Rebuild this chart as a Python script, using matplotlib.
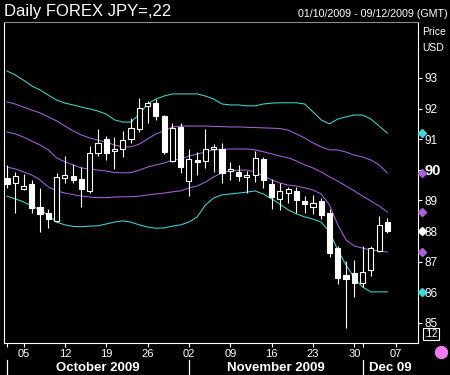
import numpy as np
import pandas as pd
import matplotlib
matplotlib.use("Agg")
import matplotlib.pyplot as plt
import matplotlib.transforms as mtransforms
from matplotlib.lines import Line2D

plt.rcParams['font.family'] = ['Liberation Sans', 'DejaVu Sans']

# trading days on the axis, 01/10/2009 - 09/12/2009
days = pd.bdate_range("2009-10-01", "2009-12-09")

opens = [89.72, 89.56, 89.38, 89.54, 88.79, 88.60, 88.33, 89.72, 89.80, 89.70,
         89.32, 90.55, 91.00, 90.60, 90.67, 91.00, 91.33, 92.10, 92.19, 91.76,
         90.30, 91.41, 89.65, 90.32, 90.29, 90.68, 90.67, 89.96, 89.92, 89.77,
         89.83, 90.35, 89.54, 89.05, 89.23, 89.31, 88.98, 88.79, 88.99, 88.58,
         87.45, 86.56, 86.62, 86.29, 86.73, 87.35, 88.30]
highs = [90.16, 89.93, 89.86, 89.67, 89.41, 88.72, 89.90, 90.45, 90.19, 90.10,
         90.78, 91.33, 91.10, 91.07, 91.28, 91.69, 92.35, 92.26, 92.31, 91.79,
         91.53, 91.54, 90.68, 90.59, 91.32, 90.84, 90.88, 90.26, 90.16, 89.97,
         90.61, 90.43, 89.69, 89.56, 89.45, 89.43, 89.14, 89.18, 89.07, 88.71,
         87.50, 87.02, 87.05, 87.51, 87.51, 88.49, 88.43]
lows = [89.41, 88.59, 89.34, 88.59, 87.97, 88.10, 88.29, 89.57, 89.57, 88.79,
        89.24, 90.45, 90.32, 90.03, 90.43, 90.88, 91.25, 91.53, 91.63, 90.52,
        90.26, 89.91, 89.16, 89.83, 90.05, 89.94, 89.58, 89.67, 89.64, 89.23,
        89.61, 89.40, 88.71, 88.69, 88.91, 88.58, 88.60, 88.54, 88.38, 87.16,
        86.26, 84.82, 85.83, 86.18, 86.54, 87.32, 87.94]
closes = [89.53, 89.80, 89.48, 88.75, 88.56, 88.39, 89.75, 89.82, 89.67, 89.38,
          90.55, 90.88, 90.55, 90.68, 90.97, 91.38, 92.02, 92.18, 91.76, 90.58,
          91.38, 90.08, 90.34, 90.26, 90.67, 90.74, 89.89, 90.02, 89.81, 89.83,
          90.38, 89.67, 89.10, 89.31, 89.36, 89.01, 88.88, 88.93, 88.52, 87.29,
          86.47, 86.42, 86.31, 86.65, 87.43, 88.20, 88.01]

# envelope bands
upper_outer = [93.23, 93.10, 92.93, 92.74, 92.61, 92.44, 92.28, 92.18, 92.12, 92.05,
               91.99, 91.92, 91.82, 91.63, 91.56, 91.56, 91.82, 92.15, 92.31, 92.41,
               92.48, 92.48, 92.48, 92.48, 92.41, 92.31, 92.15, 92.12, 92.12, 92.09,
               92.09, 92.15, 92.18, 92.19, 92.19, 92.19, 92.15, 91.89, 91.63, 91.50,
               91.66, 91.73, 91.79, 91.79, 91.66, 91.43, 91.20]
upper_inner = [92.22, 92.15, 92.05, 91.95, 91.86, 91.73, 91.60, 91.43, 91.27, 91.14,
               91.04, 90.97, 90.91, 90.81, 90.75, 90.75, 90.84, 91.01, 91.17, 91.27,
               91.40, 91.43, 91.43, 91.43, 91.43, 91.42, 91.41, 91.40, 91.40, 91.39,
               91.38, 91.37, 91.36, 91.35, 91.30, 91.17, 91.04, 90.88, 90.75, 90.65,
               90.65, 90.58, 90.48, 90.42, 90.32, 90.16, 89.90]
middle = [91.24, 91.17, 91.07, 90.94, 90.81, 90.65, 90.39, 90.26, 90.16, 90.06,
          90.03, 89.99, 89.96, 89.91, 89.90, 89.91, 89.99, 90.09, 90.16, 90.22,
          90.32, 90.35, 90.45, 90.52, 90.58, 90.65, 90.67, 90.68, 90.68, 90.68,
          90.65, 90.59, 90.52, 90.45, 90.39, 90.29, 90.16, 90.06, 89.93, 89.77,
          89.63, 89.47, 89.31, 89.14, 88.98, 88.82, 88.62]
lower_inner = [90.09, 90.03, 89.93, 89.83, 89.67, 89.44, 89.31, 89.24, 89.19, 89.14,
               89.11, 89.09, 89.09, 89.11, 89.12, 89.12, 89.14, 89.18, 89.21, 89.24,
               89.28, 89.31, 89.41, 89.47, 89.60, 89.77, 89.90, 89.96, 89.99, 89.99,
               89.93, 89.80, 89.67, 89.57, 89.50, 89.47, 89.41, 89.34, 89.21, 88.85,
               88.20, 87.71, 87.51, 87.44, 87.38, 87.35, 87.31]
lower_outer = [89.14, 89.05, 88.95, 88.82, 88.69, 88.52, 88.29, 88.20, 88.15, 88.14,
               88.16, 88.17, 88.23, 88.29, 88.33, 88.29, 88.20, 88.13, 88.09, 88.10,
               88.16, 88.20, 88.29, 88.46, 88.85, 89.08, 89.18, 89.21, 89.24, 89.27,
               89.31, 89.21, 89.05, 88.88, 88.69, 88.56, 88.46, 88.39, 88.29, 87.97,
               87.38, 86.89, 86.46, 86.17, 86.01, 86.01, 86.01]

price_ticks = [85, 86, 87, 88, 89, 90, 91, 92, 93]

cyan = '#3fd8d2'
purple = '#a860dc'

fig = plt.figure(figsize=(4.5, 3.75), dpi=100, facecolor='black')
ax = fig.add_axes([3.5 / 450, 1 - 343 / 375, 414.5 / 450, 321 / 375])
ax.set_facecolor('black')

x = np.arange(len(opens))
bands = [(upper_outer, cyan), (upper_inner, purple), (middle, purple),
         (lower_inner, purple), (lower_outer, cyan)]
for vals, col in bands:
    ax.plot(x, vals, color=col, lw=0.75, zorder=1)

o = np.array(opens)
c = np.array(closes)
ax.vlines(x, lows, highs, color='white', lw=0.8, zorder=2)
# filled = down day, hollow = up day
face = ['white' if cc < oo else 'black' for oo, cc in zip(o, c)]
ax.bar(x, np.maximum(np.abs(c - o), 0.03), bottom=np.minimum(o, c), width=0.62,
       color=face, edgecolor='white', linewidth=0.8, zorder=3)

ax.set_xlim(-0.42, 49.7)
ax.set_ylim(84.34, 94.83)

for side in ['left', 'bottom', 'right']:
    ax.spines[side].set_color('white')
ax.spines['top'].set_color('#8c8c8c')

# x axis: mondays labelled, month boundaries marked
mondays = [i for i, d in enumerate(days) if d.weekday() == 0]
ax.set_xticks(mondays, [days[i].strftime('%d') for i in mondays])
month_starts = [i for i, d in enumerate(days) if i == 0 or d.month != days[i - 1].month]
ax.set_xticks(month_starts, minor=True)
ax.tick_params(axis='x', which='both', colors='white', length=3, width=0.8,
               labelsize=8, pad=1.5)

month_names = ['October 2009', 'November 2009', 'Dec 09']
trans = mtransforms.blended_transform_factory(ax.transData, ax.transAxes)
edges = month_starts + [ax.get_xlim()[1]]
for k, name in enumerate(month_names):
    ax.plot([month_starts[k]] * 2, [-0.053, -0.1], transform=trans, color='white',
            lw=0.9, clip_on=False)
    ax.text((edges[k] + edges[k + 1]) / 2, -0.078, name, transform=trans,
            ha='center', va='center', color='white', fontsize=9.5, fontweight='bold')

# right price axis
ax.yaxis.tick_right()
ax.set_yticks(price_ticks, [str(p) for p in price_ticks])
ax.tick_params(axis='y', colors='white', length=3, width=0.8, labelsize=8.5, pad=1.5)
for lab in ax.get_yticklabels():
    if lab.get_text() == '90':
        lab.set_fontweight('bold')
        lab.set_fontsize(10.5)

# last-value markers on the price axis
ytrans = mtransforms.blended_transform_factory(ax.transAxes, ax.transData)
for vals, col in bands:
    ax.plot([1.009], [vals[-1]], marker='D', markersize=3.6, color=col,
            transform=ytrans, clip_on=False, zorder=5)
ax.plot([1.009], [closes[-1]], marker='D', markersize=3.6, color='white',
        transform=ytrans, clip_on=False, zorder=5)

fig.text(4 / 450, 1 - 16 / 375, 'Daily FOREX JPY=,22', color='white', fontsize=12,
         ha='left', va='baseline')
fig.text(448 / 450, 1 - 17 / 375, '01/10/2009 - 09/12/2009 (GMT)', color='white',
         fontsize=7.7, ha='right', va='baseline')
fig.text(422 / 450, 1 - 32 / 375, 'Price', color='white', fontsize=7.5, va='center')
fig.text(422 / 450, 1 - 48 / 375, 'USD', color='white', fontsize=7.5, va='center')
fig.text(431 / 450, 1 - 334 / 375, '.12', color='white', fontsize=7, ha='center',
         va='center', bbox=dict(boxstyle='square,pad=0.15', fc='black', ec='white', lw=0.8))
fig.add_artist(Line2D([441 / 450], [1 - 352 / 375], marker='o', markersize=8.6,
                      color='#f07cf0', transform=fig.transFigure))

fig.savefig('out.png', dpi=100, facecolor='black')
